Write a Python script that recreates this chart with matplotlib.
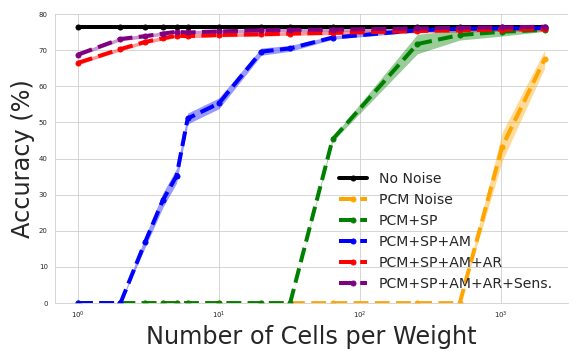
import numpy as np
import matplotlib
matplotlib.use('Agg')
import matplotlib.pyplot as plt
import seaborn as sns

cells = [1, 2, 3, 4, 5, 6, 10, 20, 32, 64, 256, 512, 1024, 2048]

no_noise = [76.5] * 14
pcm = [0, 0, 0, 0, 0, 0, 0, 0, 0, 0, 0, 0, 43.3, 67.5]
pcm_sp = [0, 0, 0, 0, 0, 0, 0, 0, 0, 45.3, 71.7, 74.2, 75.1, 75.6]
pcm_sp_am = [0, 0, 17, 28.5, 35.2, 51.1, 55.3, 69.6, 70.5, 73.5, 75.5, 75.9, 76.0, 76.1]
pcm_sp_am_ar = [66.5, 70.3, 72.3, 73.3, 74.0, 73.9, 74.2, 74.4, 74.6, 74.8, 75.3, 75.5, 75.7, 75.8]
pcm_sp_am_ar_sens = [68.8, 73.1, 73.9, 74.6, 75.1, 74.9, 75.2, 75.5, 75.6, 75.7, 76.0, 76.2, 76.3, 76.5]

pcm_std = [0, 0, 0, 0, 0, 0, 0, 0, 0, 0, 0, 0, 4.0, 2.5]
pcm_sp_std = [0, 0, 0, 0, 0, 0, 0, 0, 0, 0.6, 2.7, 1.4, 1.2, 0.4]
pcm_sp_am_std = [0, 0, 1.5, 2.0, 2.0, 1.5, 1.5, 1.0, 0.8, 0.5, 0.4, 0.3, 0.3, 0.3]
pcm_sp_am_ar_std = [0.5] * 14
pcm_sp_am_ar_sens_std = [0.5] * 14

sns.set_style('whitegrid')
fig = plt.figure(figsize=(8, 5), dpi=72)
ax = fig.add_axes([0.095, 0.158, 0.891, 0.803])

ax.plot(cells, no_noise, 'o-', color='black', lw=4, ms=5, label='No Noise')
series = [
    (pcm, pcm_std, 'orange', 'PCM Noise'),
    (pcm_sp, pcm_sp_std, 'green', 'PCM+SP'),
    (pcm_sp_am, pcm_sp_am_std, 'blue', 'PCM+SP+AM'),
    (pcm_sp_am_ar, pcm_sp_am_ar_std, 'red', 'PCM+SP+AM+AR'),
    (pcm_sp_am_ar_sens, pcm_sp_am_ar_sens_std, 'purple', 'PCM+SP+AM+AR+Sens.'),
]
for mean, std, c, lab in series:
    mean = np.array(mean)
    std = np.array(std)
    ax.fill_between(cells, mean - std, mean + std, color=c, alpha=0.4, lw=0)
    ax.plot(cells, mean, 'o--', color=c, lw=4, ms=5, label=lab)

ax.set_xscale('log')
ax.set_ylim(0, 80)
ax.tick_params(labelsize=7, colors='#262626')
ax.set_xlabel('Number of Cells per Weight', fontsize=24, color='#262626')
ax.set_ylabel('Accuracy (%)', fontsize=24, color='#262626')
sns.despine(ax=ax, top=True, right=True)
ax.legend(loc='lower right', fontsize=14, frameon=False, bbox_to_anchor=(0.995, -0.003))

plt.savefig('out.png', dpi=72)
